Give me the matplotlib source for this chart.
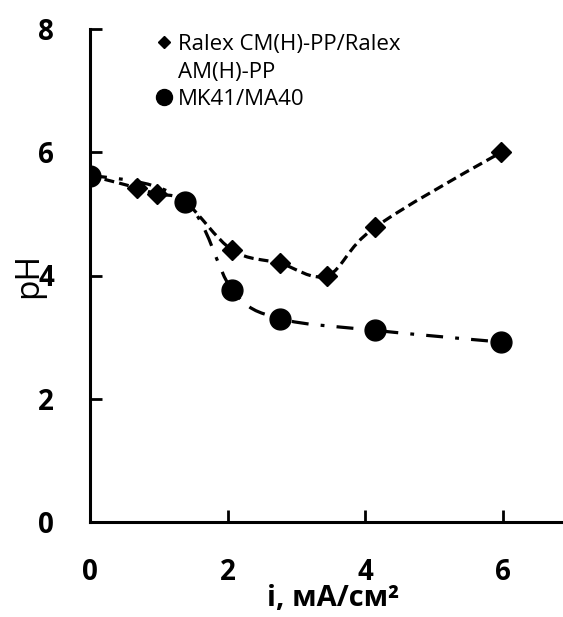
# pH vs current density for two membrane pairs

import numpy as np
import matplotlib
matplotlib.use('Agg')
import matplotlib.pyplot as plt
from matplotlib.path import Path
from matplotlib.patches import PathPatch
from matplotlib.lines import Line2D

plt.rcParams['font.family'] = ['Open Sans', 'DejaVu Sans']

# Ralex CM(H)-PP / Ralex AM(H)-PP
ralexI = [0, 0.69, 0.97, 1.38, 2.07, 2.76, 3.45, 4.14, 5.98]
ralexPh = [5.62, 5.42, 5.32, 5.2, 4.41, 4.2, 4.0, 4.78, 6.0]
# MK41 / MA40
mkI = [0, 1.38, 2.07, 2.76, 4.14, 5.98]
mkPh = [5.62, 5.2, 3.76, 3.3, 3.11, 2.92]

xTicks = [0, 2, 4, 6]
yTicks = [0, 2, 4, 6, 8]
legendLabels = ['Ralex CM(H)-PP/Ralex', 'AM(H)-PP', 'MK41/MA40']


# smoothpath: Excel-like smoothed line through the points (cubic Bezier,
# Catmull-Rom tangents inside, natural end conditions)
def smoothpath(xs, ys):
    pts = np.column_stack([xs, ys]).astype(float)
    n = len(pts)
    tan = np.zeros_like(pts)
    for i in range(1, n - 1):
        tan[i] = (pts[i + 1] - pts[i - 1]) / 2
    tan[0] = (3 * (pts[1] - pts[0]) - tan[1]) / 2
    tan[-1] = (3 * (pts[-1] - pts[-2]) - tan[-2]) / 2
    verts = [pts[0]]
    codes = [Path.MOVETO]
    for i in range(n - 1):
        verts += [pts[i] + tan[i] / 3, pts[i + 1] - tan[i + 1] / 3, pts[i + 1]]
        codes += [Path.CURVE4] * 3
    return Path(verts, codes)


W, H = 563, 617
fig = plt.figure(figsize=(W / 100, H / 100), dpi=100)
ax = fig.add_axes([90 / W, 1 - 522 / H, 1 - 90 / W, (522 - 29) / H])

# curves
ax.add_patch(PathPatch(smoothpath(ralexI, ralexPh), fill=False, lw=2.3,
                       ls=(0, (3.1, 1.6)), edgecolor='black', capstyle='butt'))
ax.add_patch(PathPatch(smoothpath(mkI, mkPh), fill=False, lw=2.3,
                       ls=(0, (5.3, 3.8, 1.2, 3.8)), edgecolor='black', capstyle='butt'))

# markers
ax.plot(ralexI, ralexPh, 'D', color='black', ms=10.5, ls='none', zorder=3)
ax.plot(mkI, mkPh, 'o', color='black', ms=15, ls='none', zorder=4)

ax.set_xlim(0, 473 / 68.8)
ax.set_ylim(0, 8)
ax.set_xticks(xTicks)
ax.set_yticks(yTicks)

for s in ['top', 'right']:
    ax.spines[s].set_visible(False)
for s in ['left', 'bottom']:
    ax.spines[s].set_linewidth(2.2)

ax.tick_params(direction='in', length=8.5, width=2, pad=26,
               labelsize=20)
for lbl in ax.get_xticklabels() + ax.get_yticklabels():
    lbl.set_fontweight('bold')

ax.set_xlabel('i, мА/см²', fontsize=21, fontweight='bold', va='center')
ax.xaxis.set_label_coords((333 - 90) / 473, -(599 - 522) / 493)
ax.set_ylabel('pH', fontsize=24)
ax.yaxis.set_label_coords(-0.095, 0.5)

# legend
h1 = Line2D([], [], marker='D', ls='none', color='black', ms=6.6)
h2 = Line2D([], [], marker='none', ls='none')
h3 = Line2D([], [], marker='o', ls='none', color='black', ms=11.5)
ax.legend([h1, h2, h3], legendLabels, loc='upper left',
          bbox_to_anchor=((156 - 90) / 473, 0.99), frameon=False,
          fontsize=16, handlelength=0.7, handletextpad=0.3,
          labelspacing=0.3, borderpad=0, borderaxespad=0)

fig.savefig('out.png', dpi=100)
